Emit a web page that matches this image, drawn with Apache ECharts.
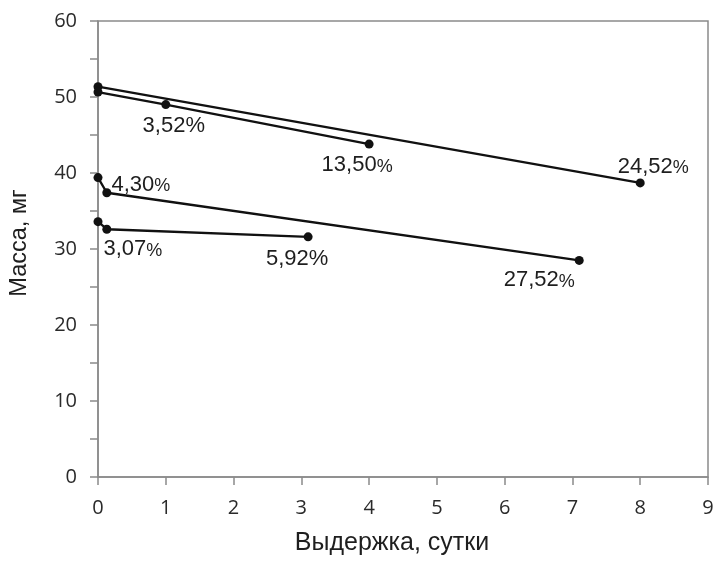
<!DOCTYPE html>
<html>
<head>
<meta charset="utf-8">
<script src="https://cdn.jsdelivr.net/npm/echarts@6/dist/echarts.min.js"></script>
<style>html,body{margin:0;padding:0;background:#fff;}#c{width:717px;height:561px;}</style>
</head>
<body>
<div id="c"></div>
<script>
// Data
const xTicks = [0,1,2,3,4,5,6,7,8,9];
const yTicks = [0,10,20,30,40,50,60];
const seriesA = [[0, 51.35], [8, 38.7]];
const seriesB = [[0, 50.65], [1, 49.0], [4, 43.8]];
const seriesC = [[0, 39.4], [0.13, 37.4], [7.1, 28.5]];
const seriesD = [[0, 33.6], [0.13, 32.6], [3.1, 31.6]];
const labelsA = ['', '24,52'];
const labelsB = ['', '3,52', '13,50'];
const labelsC = ['', '4,30', '27,52'];
const labelsD = ['', '3,07', '5,92'];
const smallPct = {A: [false, true], B: [false, false, true], C: [false, true, true], D: [false, true, false]};

// label offsets (layout only)
const offsets = {
  A: [null, [13, -16]],
  B: [null, [8, 21], [-12, 21]],
  C: [null, [34, -8], [-40, 20]],
  D: [null, [26, 20], [-11, 22]]
};

function build(key, pts, labels) {
  return pts.map((p, i) => {
    const d = {value: p};
    if (labels[i]) {
      const txt = smallPct[key][i] ? '{n|' + labels[i] + '}{p|%}' : '{n|' + labels[i] + '%}';
      d.label = {
        show: true,
        position: 'inside',
        offset: offsets[key][i],
        formatter: txt,
        rich: {
          n: {fontFamily: 'Liberation Sans, Arial', fontSize: 22, color: '#1e1e1e'},
          p: {fontFamily: 'Liberation Sans, Arial', fontSize: 18, color: '#1e1e1e', padding: [3, 0, 0, 0]}
        }
      };
    }
    return d;
  });
}

function lineSeries(key, pts, labels) {
  return {
    type: 'line',
    data: build(key, pts, labels),
    symbol: 'circle',
    symbolSize: 9,
    lineStyle: {color: '#111', width: 2.3},
    itemStyle: {color: '#111'},
    label: {show: false},
    animation: false,
    z: 3
  };
}

const chart = echarts.init(document.getElementById('c'), null, {renderer: 'canvas'});
chart.setOption({
  animation: false,
  backgroundColor: '#fff',
  grid: {left: 97, right: 9, top: 21, bottom: 80, show: true, borderColor: '#8a8a8a', borderWidth: 1.5},
  xAxis: {
    type: 'value', min: xTicks[0], max: xTicks[xTicks.length - 1], interval: 1,
    name: 'Выдержка, сутки', nameLocation: 'middle', nameGap: 54,
    nameTextStyle: {fontFamily: 'Liberation Sans, Arial', fontSize: 25, color: '#1e1e1e', padding: [0, 22, 0, 0]},
    axisLine: {show: true, lineStyle: {color: '#8a8a8a', width: 1.5}},
    axisTick: {show: true, length: 8, lineStyle: {color: '#8a8a8a', width: 1.5}},
    axisLabel: {fontFamily: 'Open Sans', fontSize: 20, color: '#2a2a2a', margin: 21},
    splitLine: {show: false}
  },
  yAxis: {
    type: 'value', min: yTicks[0], max: yTicks[yTicks.length - 1], interval: 10,
    name: 'Масса, мг', nameLocation: 'middle', nameGap: 66,
    nameTextStyle: {fontFamily: 'Liberation Sans, Arial', fontSize: 23.5, color: '#1e1e1e', padding: [0, 0, 0, 12]},
    axisLine: {show: true, lineStyle: {color: '#8a8a8a', width: 1.5}},
    axisTick: {show: true, length: 8, lineStyle: {color: '#8a8a8a', width: 1.5}},
    minorTick: {show: true, splitNumber: 2, length: 8, lineStyle: {color: '#8a8a8a', width: 1.5}},
    axisLabel: {fontFamily: 'Open Sans', fontSize: 20, color: '#2a2a2a', margin: 21},
    splitLine: {show: false}
  },
  series: [
    lineSeries('A', seriesA, labelsA),
    lineSeries('B', seriesB, labelsB),
    lineSeries('C', seriesC, labelsC),
    lineSeries('D', seriesD, labelsD)
  ]
});
</script>
</body>
</html>
